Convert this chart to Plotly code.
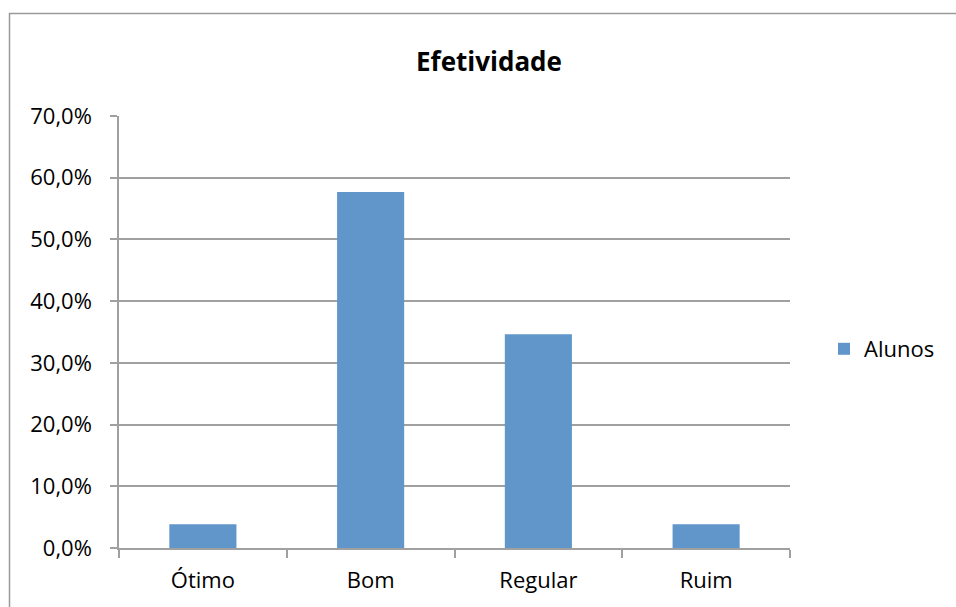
import plotly.graph_objects as go

categories = ["Ótimo", "Bom", "Regular", "Ruim"]
alunos = [1/26, 15/26, 9/26, 1/26]
series_name = "Alunos"
chart_title = "Efetividade"

W, H = 956, 607
L, R, T, B = 119, 166, 116, 59
pw, ph = W - L - R, H - T - B

def px_x(x):
    return (x - L) / pw

def px_y(y):
    return (H - B - y) / ph

fig = go.Figure()
fig.add_trace(go.Bar(x=categories, y=alunos, name=series_name,
                     marker=dict(color="#6096CA", line=dict(width=0)),
                     showlegend=True))

grid = "#a0a0a0"
font = "Open Sans"
fig.update_layout(
    width=W, height=H,
    margin=dict(l=L, r=R, t=T, b=B),
    paper_bgcolor="white", plot_bgcolor="white",
    separators=",.",
    bargap=0.6,
    title=dict(text="<b>" + chart_title + "</b>", x=489 / W, xanchor="center",
               y=1 - 62 / H, yanchor="middle",
               font=dict(family=font, size=26, color="black")),
    font=dict(family=font, size=22, color="black"),
    showlegend=True,
    legend=dict(x=px_x(824), xanchor="left", y=px_y(349), yanchor="middle",
                font=dict(family=font, size=22, color="black"),
                itemwidth=30, bgcolor="rgba(0,0,0,0)"),
    xaxis=dict(showgrid=False, showline=True, linecolor=grid, linewidth=1.5,
               ticks="outside", tickson="boundaries", ticklen=8, tickcolor=grid,
               tickwidth=1.5, ticklabelstandoff=12, zeroline=False),
    yaxis=dict(range=[0, 0.7], dtick=0.1, tickformat=".1%", showgrid=True,
               gridcolor=grid, gridwidth=1.5, showline=True, linecolor=grid,
               linewidth=1.5, ticks="outside", ticklen=7, tickcolor=grid,
               tickwidth=1.5, ticklabelstandoff=14, zeroline=False),
    shapes=[dict(type="rect", xref="paper", yref="paper",
                 x0=px_x(9.5), x1=px_x(970), y0=px_y(620), y1=px_y(13.5),
                 line=dict(color="#9a9a9a", width=1.5), layer="below")],
)

fig.write_html("out.html")
